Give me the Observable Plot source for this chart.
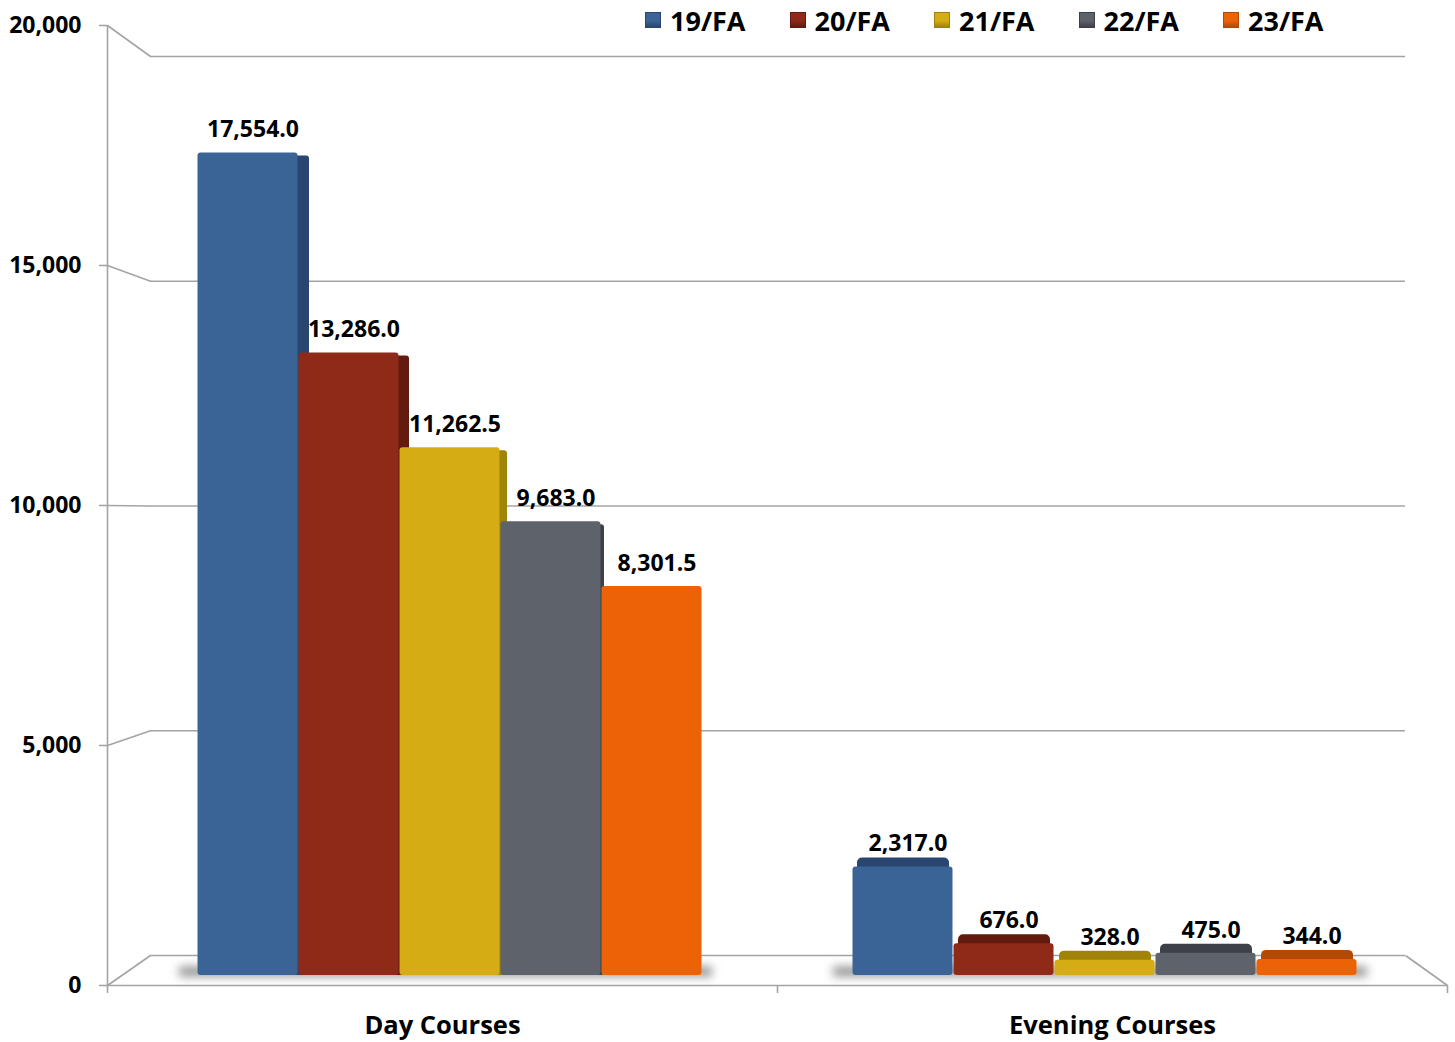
<!DOCTYPE html>
<html>
<head>
<meta charset="utf-8">
<script src="https://cdn.jsdelivr.net/npm/d3@7"></script>
<script src="https://cdn.jsdelivr.net/npm/@observablehq/plot@0.6"></script>
<style>
  body { margin: 0; background: #fff; }
  #chart { position: relative; width: 1455px; height: 1042px; font-family: "Open Sans", sans-serif; overflow: hidden; }
  #chart svg { position: absolute; left: 0; top: 0; overflow: visible; background: transparent; }
  #legend { position: absolute; left: 645px; top: 4px; display: flex; font-family: "Open Sans", sans-serif; font-weight: 700; font-size: 27px; color: #000; }
  #legend .item { display: flex; align-items: center; width: 144.5px; height: 32px; }
  #legend .sw { width: 16px; height: 16px; margin-right: 9px; box-sizing: border-box; }
</style>
</head>
<body>
<div id="chart"></div>
<script>
// ---- data ----
const courses = ["Day Courses", "Evening Courses"];
const terms = ["19/FA", "20/FA", "21/FA", "22/FA", "23/FA"];
const dayValues = [17554.0, 13286.0, 11262.5, 9683.0, 8301.5];
const eveningValues = [2317.0, 676.0, 328.0, 475.0, 344.0];
const yTicks = [0, 5000, 10000, 15000, 20000];

// ---- styles ----
const colors = ["#3b6496", "#8f2a18", "#d6ac14", "#5e626a", "#ec6307"];
const shadeColors = ["#284670", "#621b0e", "#a08309", "#3d4046", "#b24a05"];
const daySideDepth = [11, 10, 7, 3, 0];
const gridColor = "#a4a4a4";
const shadowColor = "#7a7a7b";

// ---- layout (pixels) ----
const W = 1455, H = 1042;
const FRONT = {left: 107, right: 1447, top: 25, bottom: 985};
const BACK = {left: 150, right: 1405, top: 56, bottom: 955};
const BAR = {top: 38, bottom: 975};
const GROUPS = [{left: 197, right: 702}, {left: 851, right: 1357}];
const yDomain = [0, 20000];
const font = {fontFamily: "Open Sans, sans-serif", fontWeight: "bold", color: "#000", background: "transparent", overflow: "visible"};

const chart = document.getElementById("chart");

// Back wall (gridlines + back floor edge)
const back = Plot.plot({
  width: W, height: H,
  marginLeft: BACK.left, marginRight: W - BACK.right, marginTop: BACK.top, marginBottom: H - BACK.bottom,
  x: {domain: [0, 1], axis: null},
  y: {domain: yDomain, axis: null},
  style: font,
  marks: [Plot.ruleY(yTicks, {stroke: gridColor, strokeWidth: 1.6})]
});
chart.appendChild(back);

// Front axis + floor
const xF = Plot.scale({x: {domain: [0, 1], range: [FRONT.left, FRONT.right]}});
const yF = Plot.scale({y: {domain: yDomain, range: [FRONT.bottom, FRONT.top]}});
const yB = back.scale("y");
const xB = back.scale("x");
const connectors = yTicks.map(v => ({x1: 0, y1: v, x2: xF.invert(xB.apply(0)), y2: yF.invert(yB.apply(v))}));
connectors.push({x1: 1, y1: 0, x2: xF.invert(xB.apply(1)), y2: yF.invert(yB.apply(0))});
const n = courses.length;

const front = Plot.plot({
  width: W, height: H,
  marginLeft: FRONT.left, marginRight: W - FRONT.right, marginTop: FRONT.top, marginBottom: H - FRONT.bottom,
  x: {domain: [0, 1], axis: null},
  y: {domain: yDomain, axis: null},
  style: font,
  marks: [
    Plot.link(connectors, {x1: "x1", y1: "y1", x2: "x2", y2: "y2", stroke: gridColor, strokeWidth: 1.6}),
    Plot.ruleX([0], {stroke: gridColor, strokeWidth: 1.6}),
    Plot.ruleY([0], {stroke: gridColor, strokeWidth: 1.6}),
    Plot.axisY({ticks: yTicks, tickSize: 8, tickPadding: 18, tickFormat: d3.format(","), stroke: gridColor, strokeWidth: 1.6, fill: "#000", fontSize: 23, fontWeight: "bold"}),
    Plot.axisX({ticks: d3.range(n + 1).map(i => i / n), tickSize: 8, tickFormat: () => "", stroke: gridColor, strokeWidth: 1.6}),
    Plot.text(courses, {x: (d, i) => (i + 0.5) / n, y: 0, dy: 40, text: d => d, fontSize: 25.5, fontWeight: "bold", fill: "#000"})
  ]
});
chart.appendChild(front);

// Bars, one layer per course group
function barLayer(values, group, isDay, id) {
  const rows = terms.map((t, i) => ({term: t, value: values[i], i}));
  const shade = isDay
    ? rows.filter(r => daySideDepth[r.i] > 0).map(r =>
        Plot.barY([r], {x: "term", y: "value", fill: shadeColors[r.i], dx: daySideDepth[r.i], dy: 3, insetBottom: 3, rx: 3}))
    : rows.map(r =>
        Plot.barY([r], {x: "term", y: "value", fill: shadeColors[r.i], dy: -9, insetLeft: 5, insetRight: 4, rx: 5}));
  const svg = Plot.plot({
    width: W, height: H,
    marginLeft: group.left, marginRight: W - group.right, marginTop: BAR.top, marginBottom: H - BAR.bottom,
    x: {domain: terms, padding: 0, axis: null},
    y: {domain: yDomain, axis: null},
    color: {domain: terms, range: colors},
    style: font,
    marks: [
      Plot.ruleY([0], {stroke: shadowColor, strokeWidth: 10, strokeOpacity: 0.8, dy: -4, insetLeft: -18, insetRight: -10}),
      ...shade,
      Plot.barY(rows, {x: "term", y: "value", fill: "term", insetLeft: 0.5, insetRight: 0.5, rx: 3}),
      Plot.text(rows, {x: "term", y: "value", text: d => d3.format(",.1f")(d.value), dx: 5, dy: -23, fontSize: 23, fontWeight: "bold", fill: "#000"})
    ]
  });
  const s = d3.select(svg);
  s.append("defs").append("filter").attr("id", id)
    .attr("filterUnits", "userSpaceOnUse")
    .attr("x", 0).attr("y", 0).attr("width", W).attr("height", H)
    .append("feGaussianBlur").attr("stdDeviation", 5);
  s.selectAll("g, line").filter(function() { return this.getAttribute("stroke") === shadowColor; })
    .attr("filter", `url(#${id})`);
  return svg;
}
chart.appendChild(barLayer(dayValues, GROUPS[0], true, "blurDay"));
chart.appendChild(barLayer(eveningValues, GROUPS[1], false, "blurEve"));

// Legend
const legend = document.createElement("div");
legend.id = "legend";
terms.forEach((t, i) => {
  const item = document.createElement("div");
  item.className = "item";
  const sw = document.createElement("span");
  sw.className = "sw";
  sw.style.background = `linear-gradient(180deg, ${colors[i]} 0%, ${colors[i]} 55%, ${shadeColors[i]} 100%)`;
  sw.style.border = `1px solid ${shadeColors[i]}`;
  const lab = document.createElement("span");
  lab.textContent = t;
  item.appendChild(sw);
  item.appendChild(lab);
  legend.appendChild(item);
});
chart.appendChild(legend);
</script>
</body>
</html>
